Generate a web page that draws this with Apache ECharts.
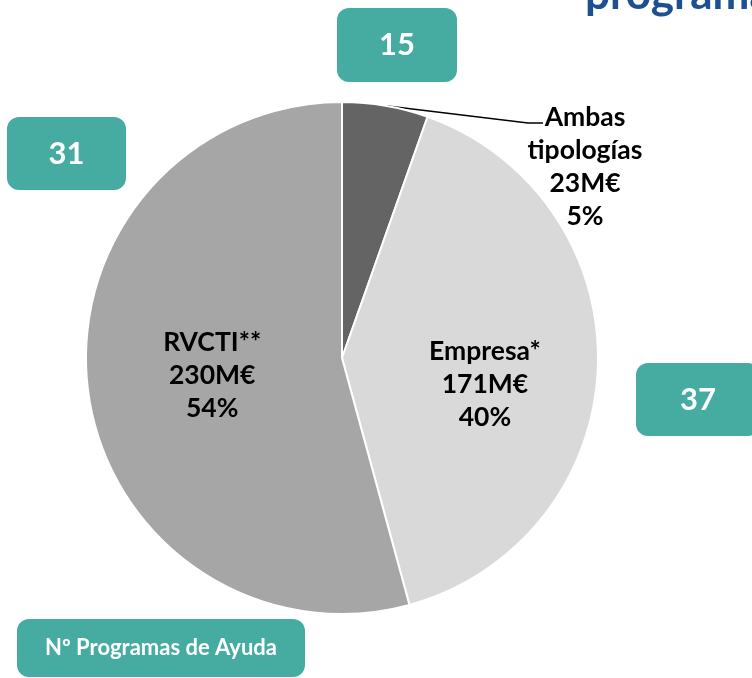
<!DOCTYPE html>
<html>
<head>
<meta charset="utf-8">
<script src="https://cdn.jsdelivr.net/npm/echarts@6/dist/echarts.min.js"></script>
<style>html,body{margin:0;padding:0;background:#fff;}#c{width:752px;height:678px;}</style>
</head>
<body>
<div id="c"></div>
<script>
var categories = ['Ambas\ntipologías', 'Empresa*', 'RVCTI**'];
var amountsM = [23, 171, 230];
var percents = ['5%', '40%', '54%'];
var programCounts = ['15', '37', '31'];
var sliceColors = ['#646464', '#d9d9d9', '#a6a6a6'];
var titleText = 'programas';
var boxLabel = 'Nº Programas de Ayuda';

var FONT = 'Lato, "Open Sans", sans-serif';
var TEAL = '#46aca2';

var chart = echarts.init(document.getElementById('c'), null, {renderer: 'canvas'});

var data = categories.map(function (c, i) {
  var item = {
    name: c,
    value: amountsM[i],
    itemStyle: {color: sliceColors[i]},
    label: {position: 'inside'},
    labelLine: {show: false}
  };
  if (i === 0) {
    item.label = {position: 'outside'};
    item.labelLine = {show: true, lineStyle: {color: '#000', width: 1.5}};
  }
  return item;
});

function box(x, y, w, h, text, size) {
  return {
    type: 'group',
    children: [
      {type: 'rect', shape: {x: x, y: y, width: w, height: h, r: 12}, style: {fill: TEAL}},
      {type: 'text', style: {x: x + w / 2, y: y + h / 2, text: text, fill: '#fff',
        font: 'bold ' + size + 'px ' + FONT, textAlign: 'center', textVerticalAlign: 'middle'}}
    ]
  };
}

chart.setOption({
  animation: false,
  backgroundColor: '#fff',
  graphic: [
    {type: 'text', style: {x: 585, y: 17, text: titleText, fill: '#1d4f91',
      font: 'bold 44px ' + FONT, textAlign: 'left', textVerticalAlign: 'bottom'}},
    box(337, 8, 120, 74, programCounts[0], 31),
    box(7, 117, 119, 73, programCounts[2], 31),
    box(636, 363, 124, 73, programCounts[1], 31),
    box(17, 619, 288, 58, boxLabel, 22)
  ],
  series: [{
    type: 'pie',
    center: [342, 358],
    radius: [0, 256],
    startAngle: 90,
    clockwise: true,
    avoidLabelOverlap: false,
    itemStyle: {borderColor: '#fff', borderWidth: 2},
    label: {
      show: true,
      color: '#000',
      fontFamily: FONT,
      fontWeight: 'bold',
      fontSize: 26.5,
      lineHeight: 33,
      align: 'center',
      formatter: function (p) {
        return p.name + '\n' + p.value + 'M€\n' + percents[p.dataIndex];
      }
    },
    labelLine: {show: false},
    labelLayout: function (p) {
      if (p.dataIndex === 0) {
        var start = p.labelLinePoints ? p.labelLinePoints[0] : [385, 106];
        return {
          x: 585, y: 167, align: 'center', verticalAlign: 'middle',
          labelLinePoints: [start, [528, 123], [543, 123]]
        };
      }
      if (p.dataIndex === 1) {
        return {dx: 12, dy: 22};
      }
      return {};
    },
    data: data
  }]
});
</script>
</body>
</html>
